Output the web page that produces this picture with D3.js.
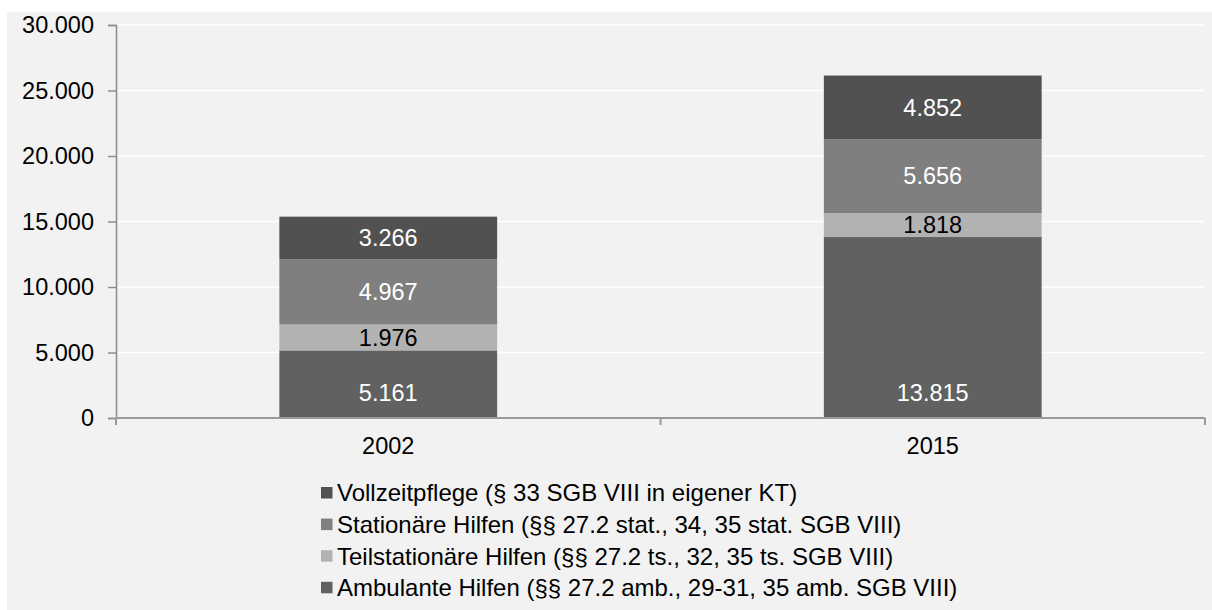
<!DOCTYPE html>
<meta charset="utf-8">
<head>
  <script src="https://d3js.org/d3.v7.min.js"></script>
  <style>
    body { margin: 0; background: #fff; }
    text { font-family: "Liberation Sans", Arial, sans-serif; }
  </style>
</head>
<body>
<div id="container"></div>
<script>
// data
var years = ["2002", "2015"];
var series = ["Ambulante Hilfen", "Teilstationäre Hilfen", "Stationäre Hilfen", "Vollzeitpflege"];
var ambulant = [5161, 13815];
var teilstationaer = [1976, 1818];
var stationaer = [4967, 5656];
var vollzeit = [3266, 4852];
var legendLabels = [
  "Vollzeitpflege (§ 33 SGB VIII in eigener KT)",
  "Stationäre Hilfen (§§ 27.2 stat., 34, 35 stat. SGB VIII)",
  "Teilstationäre Hilfen (§§ 27.2 ts., 32, 35 ts. SGB VIII)",
  "Ambulante Hilfen (§§ 27.2 amb., 29-31, 35 amb. SGB VIII)"
];
var yTicks = [0, 5000, 10000, 15000, 20000, 25000, 30000];

var width = 1212, height = 610;
var colors = {
  "Ambulante Hilfen": "#616161",
  "Teilstationäre Hilfen": "#b2b2b2",
  "Stationäre Hilfen": "#7f7f7f",
  "Vollzeitpflege": "#515151"
};
var legendColors = ["#515151", "#7f7f7f", "#b2b2b2", "#616161"];

var rows = years.map(function(y, i) {
  return {
    year: y,
    "Ambulante Hilfen": ambulant[i],
    "Teilstationäre Hilfen": teilstationaer[i],
    "Stationäre Hilfen": stationaer[i],
    "Vollzeitpflege": vollzeit[i]
  };
});

var svg = d3.select("#container").append("svg")
  .attr("width", width).attr("height", height);

svg.append("rect")
  .attr("x", 7).attr("y", 12)
  .attr("width", width - 7).attr("height", height - 12)
  .attr("fill", "#f2f2f2");

var plotLeft = 116, plotRight = 1205, plotTop = 25, plotBottom = 418;

var x = d3.scaleBand().domain(years).range([plotLeft, plotRight]).padding(0);
var y = d3.scaleLinear().domain([0, 30000]).range([plotBottom, plotTop]);

var fmt = function(v) { return d3.format(",")(v).replace(/,/g, "."); };

// gridlines
svg.append("g").selectAll("line")
  .data(yTicks.slice(1))
  .join("line")
  .attr("x1", plotLeft).attr("x2", plotRight)
  .attr("y1", function(d) { return y(d); })
  .attr("y2", function(d) { return y(d); })
  .attr("stroke", "#ffffff").attr("stroke-width", 1.5);

// bars
var stack = d3.stack().keys(series)(rows);
var barW = x.bandwidth() * 0.4;

var layers = svg.append("g").selectAll("g")
  .data(stack)
  .join("g")
  .attr("fill", function(d) { return colors[d.key]; });

layers.selectAll("rect")
  .data(function(d) { return d; })
  .join("rect")
  .attr("x", function(d) { return x(d.data.year) + x.bandwidth() / 2 - barW / 2; })
  .attr("width", barW)
  .attr("y", function(d) { return y(d[1]); })
  .attr("height", function(d) { return y(d[0]) - y(d[1]); });

// value labels (bottom series sits at the bar base, the rest centred)
stack.forEach(function(layer) {
  svg.append("g").selectAll("text")
    .data(layer)
    .join("text")
    .attr("x", function(d) { return x(d.data.year) + x.bandwidth() / 2; })
    .attr("y", function(d) {
      if (layer.key === "Ambulante Hilfen") return y(d[0]) - 25;
      return (y(d[0]) + y(d[1])) / 2;
    })
    .attr("dy", "0.35em")
    .attr("text-anchor", "middle")
    .attr("font-size", 23.5)
    .attr("fill", layer.key === "Teilstationäre Hilfen" ? "#000" : "#fff")
    .text(function(d) { return fmt(d.data[layer.key]); });
});

// y axis
var yAxis = svg.append("g")
  .attr("transform", "translate(" + plotLeft + ",0)")
  .call(d3.axisLeft(y).tickValues(yTicks).tickSize(8).tickPadding(14).tickFormat(fmt));
yAxis.select(".domain").attr("stroke", "#8c8c8c").attr("stroke-width", 1.5);
yAxis.selectAll(".tick line").attr("stroke", "#8c8c8c").attr("stroke-width", 1.5);
yAxis.selectAll(".tick text").attr("font-size", 23.5).attr("fill", "#000")
  .style("font-family", "'Liberation Sans', Arial, sans-serif");

// x axis
var xg = svg.append("g").attr("transform", "translate(0," + plotBottom + ")");
xg.append("line")
  .attr("x1", plotLeft).attr("x2", plotRight)
  .attr("stroke", "#9a9a9a").attr("stroke-width", 2);
xg.selectAll("line.tk")
  .data([plotLeft, x(years[1]), plotRight])
  .join("line").attr("class", "tk")
  .attr("x1", function(d) { return d; }).attr("x2", function(d) { return d; })
  .attr("y1", 0).attr("y2", 7)
  .attr("stroke", "#9a9a9a").attr("stroke-width", 2);
xg.selectAll("text")
  .data(years)
  .join("text")
  .attr("x", function(d) { return x(d) + x.bandwidth() / 2; })
  .attr("y", 28)
  .attr("dy", "0.35em")
  .attr("text-anchor", "middle")
  .attr("font-size", 23.5)
  .text(function(d) { return d; });

// legend
var lg = svg.append("g").attr("transform", "translate(321,493)");
var items = lg.selectAll("g")
  .data(legendLabels)
  .join("g")
  .attr("transform", function(d, i) { return "translate(0," + (i * 31.6) + ")"; });
items.append("rect")
  .attr("x", 0).attr("y", -6).attr("width", 11.5).attr("height", 11.5)
  .attr("fill", function(d, i) { return legendColors[i]; });
items.append("text")
  .attr("x", 16).attr("dy", "0.35em")
  .attr("font-size", 24)
  .text(function(d) { return d; });
</script>
</body>
